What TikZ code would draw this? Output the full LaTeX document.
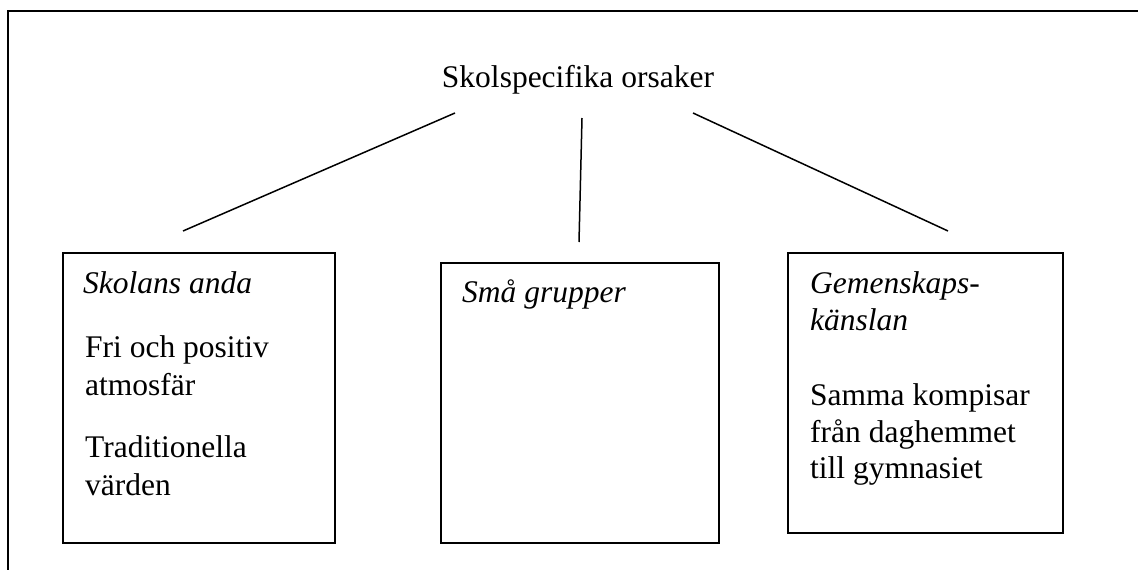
\documentclass[tikz,border=0pt]{standalone}
\usepackage{fontspec}
\setmainfont{Liberation Serif}
\begin{document}
\begin{tikzpicture}[x=1pt,y=-1pt,
  txt/.style={anchor=base west,inner sep=0pt,font=\fontsize{31.5}{38}\selectfont},
  itxt/.style={txt,font=\fontsize{31.5}{38}\selectfont\itshape},
  box/.style={draw,line width=2pt,anchor=north west,inner sep=0pt,outer sep=0pt},
  conn/.style={line width=1.5pt}]
\useasboundingbox (0,0) rectangle (1138,570);
% outer frame (top and left only)
\draw[line width=2pt] (8,570) -- (8,11) -- (1138,11);
% title
\node[anchor=base,inner sep=0pt,font=\fontsize{31.5}{38}\selectfont] (title) at (578,87) {Skolspecifika orsaker};
% boxes
\node[box,minimum width=272,minimum height=290] (b1) at (63,253) {};
\node[box,minimum width=278,minimum height=280] (b2) at (441,263) {};
\node[box,minimum width=275,minimum height=280] (b3) at (788,253) {};
% connector ends
\coordinate (t1) at (455,113);
\coordinate (t2) at (582,118);
\coordinate (t3) at (693,113);
\coordinate (e1) at (183,231);
\coordinate (e2) at (579,242);
\coordinate (e3) at (948,231);
\draw[conn] (t1) -- (e1);
\draw[conn] (t2) -- (e2);
\draw[conn] (t3) -- (e3);
% box 1 text
\node[itxt] (b1h) at (83,293) {Skolans anda};
\node[txt] (b1a) at (85,357) {Fri och positiv};
\node[txt] (b1b) at (85,395) {atmosfär};
\node[txt] (b1c) at (85,457) {Traditionella};
\node[txt] (b1d) at (85,495) {värden};
% box 2 text
\node[itxt] (b2h) at (462,302) {Små grupper};
% box 3 text
\node[itxt] (b3h) at (810,293) {Gemenskaps-};
\node[itxt] (b3i) at (810,330) {känslan};
\node[txt] (b3a) at (810,405) {Samma kompisar};
\node[txt] (b3b) at (810,442) {från daghemmet};
\node[txt] (b3c) at (810,478) {till gymnasiet};
\end{tikzpicture}
\end{document}
